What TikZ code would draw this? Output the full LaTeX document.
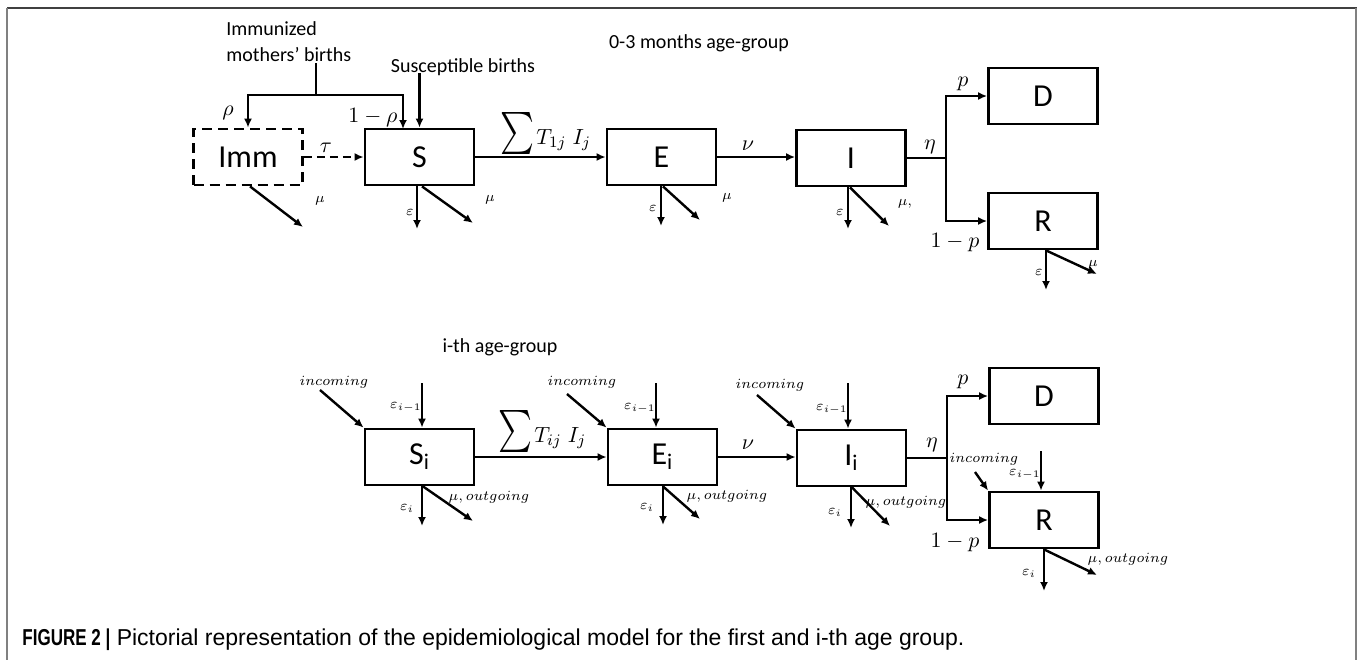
\documentclass[tikz,border=0pt]{standalone}
\usepackage{graphicx}
\usepackage{fontspec}
\setmainfont{Carlito}
\newfontfamily\capfont{Liberation Sans}
\newfontfamily\capbold[FakeStretch=0.74]{Liberation Sans Bold}
\usetikzlibrary{arrows.meta,calc}

\begin{document}
\begin{tikzpicture}[x=0.5pt,y=-0.5pt,
  box/.style={draw,line width=1.4pt,minimum width=54.5pt,minimum height=28pt,inner sep=0pt,font=\fontsize{16}{18}\selectfont},
  dbox/.style={box,dash pattern=on 5pt off 3pt},
  flow/.style={line width=1.2pt,-{Latex[length=4.5pt,width=4pt]}},
  plain/.style={line width=1.2pt},
  lbl/.style={inner sep=0pt,font=\fontsize{10}{13}\selectfont},
  ml/.style={inner sep=0pt,font=\fontsize{11}{13}\selectfont},
  sm/.style={inner sep=0pt,font=\fontsize{7.5}{9}\selectfont},
  bigsum/.style={inner sep=0pt},
]
\useasboundingbox (0,0) rectangle (1357,660);

% frame
\draw[line width=1pt,black!75] (7,8) -- (1357,8);
\draw[line width=1pt,black!50] (7,8) -- (7,660);
\draw[line width=1pt,black!50] (1356,8) -- (1356,660);

% ---------------- first age group ----------------
\node[lbl] (title1) at (699,43) {0-3 months age-group};

\node[dbox] (imm) at (248,157) {Imm};
\node[box] (S) at (419.5,157) {S};
\node[box] (E) at (661.5,157) {E};
\node[box] (I) at (851,158) {I};
\node[box] (D) at (1043,96) {D};
\node[box] (R) at (1043,221) {R};

% births
\node[lbl,align=left,anchor=north west] (imb) at (226,21) {Immunized\\mothers’ births};
\node[lbl] (sbt) at (463,67) {Susceptible births};
\coordinate (mb) at (316,63);
\coordinate (mj) at (316,95);
\coordinate (sIn) at (403,129);
\coordinate (sb) at (419.5,73);
\draw[plain] (mb) -- (mj);
\draw[flow] (mj) -| (imm.north);
\draw[flow] (mj) -| (sIn);
\draw[flow] (sb) -- (S.north);
\node[ml] (rho) at (228,113) {$\rho$};
\node[ml] (omrho) at (373,118) {$1-\rho$};

% main chain
\draw[flow,dash pattern=on 4pt off 2.5pt] (imm.east) -- (S.west);
\node[ml] (tau) at (326,148) {$\tau$};
\draw[flow] (S.east) -- (E.west);
\node[bigsum] (sig1) at (517,133) {\resizebox*{17pt}{21pt}{$\sum$}};
\node[ml,anchor=west] (tij1) at (536,140) {$T_{1j}\;I_j$};
\draw[flow] (E.east) -- (E.east -| I.west);
\node[ml] (nu1) at (748,146) {$\nu$};
\coordinate (J) at (946,158);
\draw[plain] (I.east) -- (J);
\draw[flow] (J) |- (D.west);
\draw[flow] (J) |- (R.west);
\node[ml] (eta1) at (930,147) {$\eta$};
\node[ml] (p1) at (963,84) {$p$};
\node[ml] (omp1) at (955,243) {$1-p$};

% outflows
\coordinate (immo) at (303,227);
\draw[flow] ($(imm.south)+(2,0)$) -- (immo);
\node[sm] (mui) at (320,201) {$\mu$};
\coordinate (Se) at (417,229);
\coordinate (Sm) at (473,223);
\draw[flow] (S.south -| Se) -- (Se);
\draw[flow] ($(S.south)+(2.5,0)$) -- (Sm);
\node[sm] (eS) at (410,212) {$\varepsilon$};
\node[sm] (mS) at (490,200) {$\mu$};
\coordinate (Ee) at (661,226);
\coordinate (Em) at (700,220);
\draw[flow] (E.south -| Ee) -- (Ee);
\draw[flow] ($(E.south)+(1.5,0)$) -- (Em);
\node[sm] (eE) at (653,208) {$\varepsilon$};
\node[sm] (mE) at (727,198) {$\mu$};
\coordinate (Ie) at (848,229);
\coordinate (Im) at (889,226);
\draw[flow] (I.south -| Ie) -- (Ie);
\draw[flow] ($(I.south)+(-1,0)$) -- (Im);
\node[sm] (eI) at (840,212) {$\varepsilon$};
\node[sm] (mI) at (905,204) {$\mu,$};
\coordinate (Re) at (1046,290);
\coordinate (Rm) at (1097,274);
\draw[flow] (R.south -| Re) -- (Re);
\draw[flow] (R.south -| Re) -- (Rm);
\node[sm] (eR) at (1039,272) {$\varepsilon$};
\node[sm] (mR) at (1093,265) {$\mu$};

% ---------------- i-th age group ----------------
\node[lbl] (title2) at (500,347) {i-th age-group};

\node[box] (Si) at (419.5,457) {S\textsubscript{i}};
\node[box] (Ei) at (662.5,457) {E\textsubscript{i}};
\node[box] (Ii) at (851.5,458) {I\textsubscript{i}};
\node[box] (D2) at (1044,396) {D};
\node[box] (R2) at (1044,520) {R};

\draw[flow] (Si.east) -- (Ei.west);
\node[bigsum] (sig2) at (515,431) {\resizebox*{17pt}{21pt}{$\sum$}};
\node[ml,anchor=west] (tij2) at (534,438) {$T_{ij}\;I_j$};
\draw[flow] (Ei.east) -- (Ei.east -| Ii.west);
\node[ml] (nu2) at (748,445) {$\nu$};
\coordinate (J2) at (947,458);
\draw[plain] (Ii.east) -- (J2);
\draw[flow] (J2) |- (D2.west);
\draw[flow] (J2) |- (R2.west);
\node[ml] (eta2) at (932,445) {$\eta$};
\node[ml] (p2) at (963,382) {$p$};
\node[ml] (omp2) at (955,543) {$1-p$};

% incoming arrows
\coordinate (Sin) at (320,390);
\coordinate (Sein) at (422,383);
\draw[flow] (Sin) -- (Si.north west);
\draw[flow] (Sein) -- (Si.north -| Sein);
\node[sm] (inS) at (334,382) {$incoming$};
\node[sm] (emS) at (406,407) {$\varepsilon_{i-1}$};

\coordinate (Ein) at (567,394);
\coordinate (Eein) at (656,383);
\draw[flow] (Ein) -- (Ei.north west);
\draw[flow] (Eein) -- (Ei.north -| Eein);
\node[sm] (inE) at (582,382) {$incoming$};
\node[sm] (emE) at (640,408) {$\varepsilon_{i-1}$};

\coordinate (Iin) at (757,395);
\coordinate (Iein) at (848,383);
\draw[flow] (Iin) -- (Ii.north west);
\draw[flow] (Iein) -- (Ii.north -| Iein);
\node[sm] (inI) at (770,385) {$incoming$};
\node[sm] (emI) at (832,409) {$\varepsilon_{i-1}$};

\coordinate (Rin) at (975,472);
\coordinate (Rein) at (1041,451);
\draw[flow] (Rin) -- (R2.north west);
\draw[flow] (Rein) -- (R2.north -| Rein);
\node[sm] (inR) at (984,459) {$incoming$};
\node[sm] (emR) at (1025,474) {$\varepsilon_{i-1}$};

% outgoing arrows
\coordinate (Sie) at (422,526);
\coordinate (Sim) at (473,521);
\draw[flow] (Si.south -| Sie) -- (Sie);
\draw[flow] ($(Si.south)+(3.5,0)$) -- (Sim);
\node[sm] (eSi) at (407,508) {$\varepsilon_i$};
\node[sm] (mSi) at (489,497) {$\mu,outgoing$};

\coordinate (Eie) at (663,525);
\coordinate (Eim) at (700,519);
\draw[flow] (Ei.south -| Eie) -- (Eie);
\draw[flow] ($(Ei.south)+(0.5,0)$) -- (Eim);
\node[sm] (eEi) at (647,507) {$\varepsilon_i$};
\node[sm] (mEi) at (727,496) {$\mu,outgoing$};

\coordinate (Iie) at (851,528);
\coordinate (Iim) at (890,526);
\draw[flow] (Ii.south -| Iie) -- (Iie);
\draw[flow] ($(Ii.south)+(0.5,0)$) -- (Iim);
\node[sm] (eIi) at (835,512) {$\varepsilon_i$};
\node[sm] (mIi) at (906,502) {$\mu,outgoing$};

\coordinate (R2e) at (1044,591);
\coordinate (R2m) at (1097,575);
\draw[flow] (R2.south -| R2e) -- (R2e);
\draw[flow] (R2.south -| R2e) -- (R2m);
\node[sm] (eR2) at (1029,573) {$\varepsilon_i$};
\node[sm] (mR2) at (1128,559) {$\mu,outgoing$};

% caption
\node[anchor=base west,inner sep=0pt,font=\capfont\fontsize{11.5}{13}\selectfont] (cap) at (22,645)
  {{\capbold FIGURE 2 |} Pictorial representation of the epidemiological model for the first and i-th age group.};
\end{tikzpicture}
\end{document}
